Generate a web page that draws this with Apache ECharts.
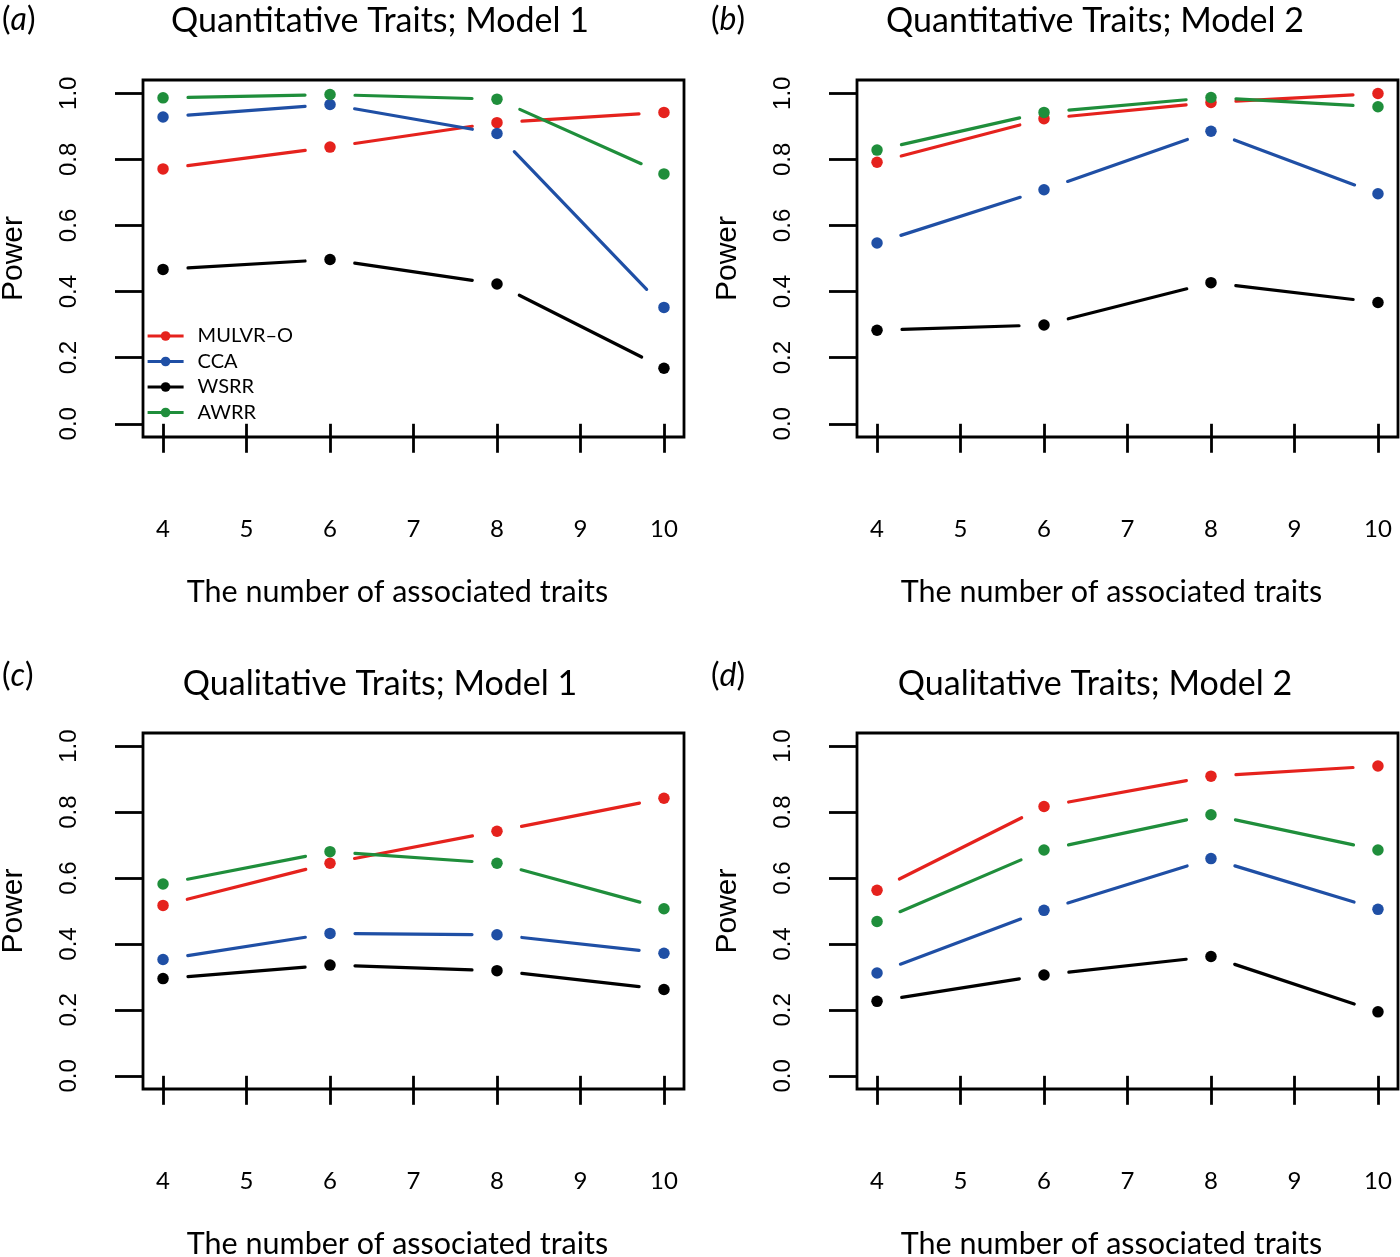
<!DOCTYPE html>
<html>
<head>
<meta charset="utf-8">
<script src="https://cdn.jsdelivr.net/npm/echarts@6/dist/echarts.min.js"></script>
<style>html,body{margin:0;padding:0;background:#fff;}#c{width:1400px;height:1257px;}</style>
</head>
<body>
<div id="c"></div>
<script>
// ---- data ----
const xValues = [4, 6, 8, 10];
const xTicks = [4, 5, 6, 7, 8, 9, 10];
const yTicks = [0, 0.2, 0.4, 0.6, 0.8, 1.0];
const methods = ['MULVR\u2013O', 'CCA', 'WSRR', 'AWRR'];
const panelTitles = ['Quantitative Traits; Model 1', 'Quantitative Traits; Model 2', 'Qualitative Traits; Model 1', 'Qualitative Traits; Model 2'];
const panelLetters = ['a', 'b', 'c', 'd'];

const qtM1_MULVR = [0.771, 0.837, 0.911, 0.942];
const qtM1_CCA   = [0.928, 0.966, 0.878, 0.352];
const qtM1_WSRR  = [0.467, 0.497, 0.423, 0.168];
const qtM1_AWRR  = [0.986, 0.996, 0.982, 0.756];

const qtM2_MULVR = [0.791, 0.923, 0.972, 0.999];
const qtM2_CCA   = [0.547, 0.708, 0.885, 0.696];
const qtM2_WSRR  = [0.283, 0.299, 0.427, 0.367];
const qtM2_AWRR  = [0.828, 0.942, 0.987, 0.959];

const qlM1_MULVR = [0.517, 0.645, 0.742, 0.842];
const qlM1_CCA   = [0.353, 0.432, 0.428, 0.372];
const qlM1_WSRR  = [0.295, 0.336, 0.319, 0.262];
const qlM1_AWRR  = [0.582, 0.680, 0.645, 0.507];

const qlM2_MULVR = [0.563, 0.817, 0.909, 0.940];
const qlM2_CCA   = [0.312, 0.502, 0.659, 0.505];
const qlM2_WSRR  = [0.226, 0.306, 0.362, 0.194];
const qlM2_AWRR  = [0.468, 0.685, 0.792, 0.685];

const panels = [
  [qtM1_MULVR, qtM1_CCA, qtM1_WSRR, qtM1_AWRR],
  [qtM2_MULVR, qtM2_CCA, qtM2_WSRR, qtM2_AWRR],
  [qlM1_MULVR, qlM1_CCA, qlM1_WSRR, qlM1_AWRR],
  [qlM2_MULVR, qlM2_CCA, qlM2_WSRR, qlM2_AWRR]
];

// ---- style ----
const colors = ['#e5221d', '#1f4fa5', '#000000', '#1f8e3b'];
const GAP = 25;
const LW = 3.2;
const myriad = 'Lato, "Noto Sans", sans-serif';
const arial = '"Liberation Sans", Arial, sans-serif';

const gridPos = [
  {left: 143, top: 80, height: 357},
  {left: 857, top: 80, height: 357},
  {left: 143, top: 733, height: 356},
  {left: 857, top: 733, height: 356}
];

const grids = [], xAxes = [], yAxes = [], series = [];
gridPos.forEach((g, gi) => {
  grids.push({left: g.left, top: g.top, width: 541, height: g.height, show: true,
    borderColor: '#000', borderWidth: 2.8, backgroundColor: 'transparent', containLabel: false,
    outerBoundsMode: 'none'});
  xAxes.push({
    type: 'value', gridIndex: gi, min: 3.76, max: 10.24,
    name: 'The number of associated traits', nameLocation: 'middle', nameGap: 140,
    nameTextStyle: {fontFamily: myriad, fontSize: 30.5, color: '#000', padding: [0, 32, 0, 0]},
    splitLine: {show: false},
    axisLine: {show: false},
    axisTick: {show: true, customValues: xTicks, length: 29, lineStyle: {color: '#000', width: 2.8}},
    axisLabel: {show: true, customValues: xTicks, margin: 80, fontFamily: myriad, fontSize: 24, color: '#000'}
  });
  yAxes.push({
    type: 'value', gridIndex: gi, min: -0.04, max: 1.04,
    name: 'Power', nameLocation: 'middle', nameGap: 114,
    nameTextStyle: {fontFamily: arial, fontSize: 30, color: '#000'},
    splitLine: {show: false},
    axisLine: {show: false},
    axisTick: {show: true, customValues: yTicks, length: 28, lineStyle: {color: '#000', width: 2.8}},
    axisLabel: {show: true, customValues: yTicks, rotate: 90, margin: 62, fontFamily: arial, fontSize: 24, color: '#000',
      formatter: v => v.toFixed(1)}
  });
  panels[gi].forEach((vals, mi) => {
    const data = xValues.map((x, i) => [x, vals[i]]);
    const color = colors[mi];
    series.push({
      type: 'custom', xAxisIndex: gi, yAxisIndex: gi, data: data, silent: true, z: 2,
      encode: {x: 0, y: 1},
      renderItem: function (params, api) {
        const i = params.dataIndex;
        if (i >= data.length - 1) return null;
        const p0 = api.coord([api.value(0), api.value(1)]);
        const p1 = api.coord(data[i + 1]);
        const dx = p1[0] - p0[0], dy = p1[1] - p0[1];
        const L = Math.hypot(dx, dy);
        if (L <= 2 * GAP) return null;
        const ux = dx / L, uy = dy / L;
        return {type: 'line', shape: {x1: p0[0] + ux * GAP, y1: p0[1] + uy * GAP, x2: p1[0] - ux * GAP, y2: p1[1] - uy * GAP},
          style: {stroke: color, lineWidth: LW, lineCap: 'round'}};
      }
    });
    series.push({
      type: 'line', name: methods[mi], xAxisIndex: gi, yAxisIndex: gi, data: data,
      symbol: 'circle', symbolSize: 11.5, showSymbol: true, silent: true, z: 3,
      lineStyle: {width: LW, opacity: 0, color: color},
      itemStyle: {color: color},
      emphasis: {disabled: true}, animation: false
    });
  });
});

const graphics = [];
const titleCenters = [[380, 21], [1095, 21], [380, 684], [1095, 684]];
const letterPos = [[2, 20], [711, 20], [2, 676], [711, 676]];
panelTitles.forEach((t, i) => {
  graphics.push({type: 'text', x: titleCenters[i][0], y: titleCenters[i][1],
    style: {text: t, fontFamily: myriad, fontSize: 34, fill: '#000', align: 'center', verticalAlign: 'middle'}});
  graphics.push({type: 'text', x: letterPos[i][0], y: letterPos[i][1],
    style: {text: '(' + '{i|' + panelLetters[i] + '})', fontFamily: myriad, fontSize: 32, fill: '#000', align: 'left', verticalAlign: 'middle',
      rich: {i: {fontStyle: 'italic', fontFamily: myriad, fontSize: 32, fill: '#000'}}}});
});

const chart = echarts.init(document.getElementById('c'), null, {renderer: 'canvas'});
chart.setOption({
  animation: false,
  backgroundColor: '#fff',
  grid: grids, xAxis: xAxes, yAxis: yAxes, series: series,
  legend: {
    data: methods, left: 146, top: 326, orient: 'vertical', itemWidth: 36, itemHeight: 12, itemGap: 5.5,
    padding: 0, selectedMode: false,
    lineStyle: {opacity: 1, width: LW},
    textStyle: {fontFamily: myriad, fontSize: 20, lineHeight: 20, color: '#000', padding: [0, 0, 0, 9]}
  },
  graphic: graphics
});
</script>
</body>
</html>
